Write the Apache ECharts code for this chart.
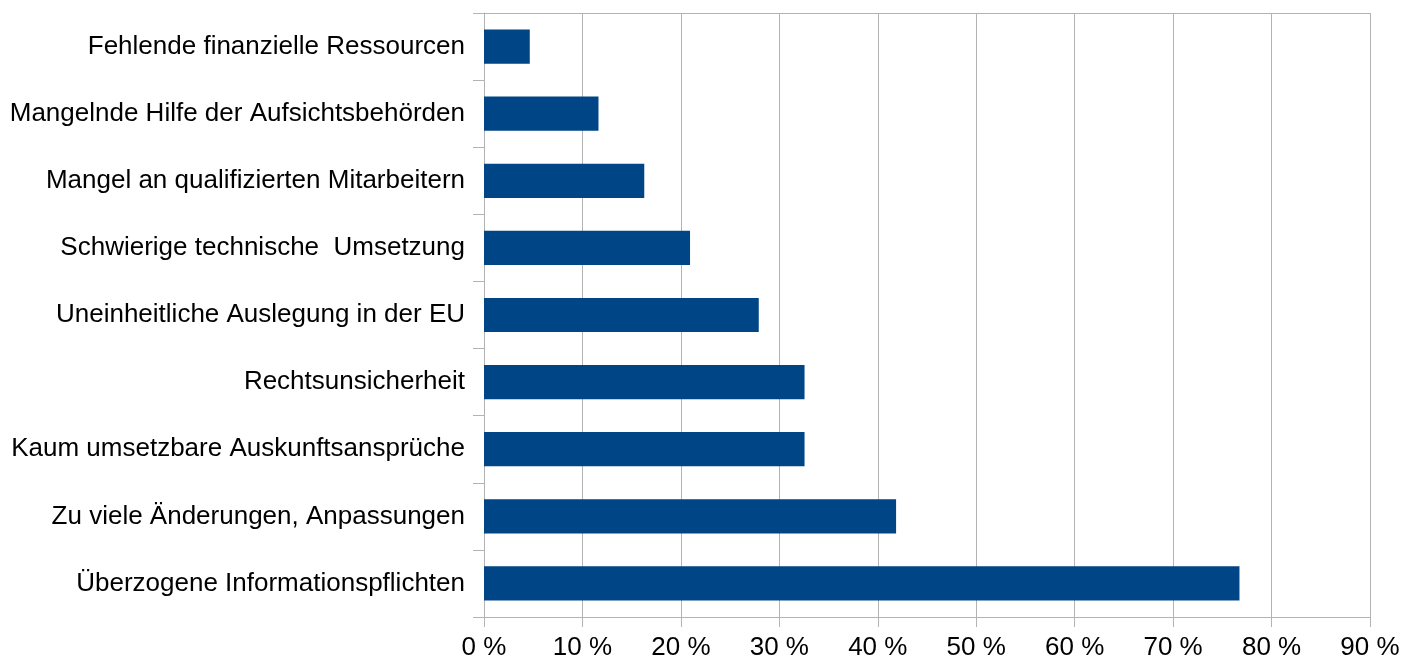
<!DOCTYPE html>
<html><head><meta charset="utf-8">
<script src="https://cdn.jsdelivr.net/npm/echarts@6/dist/echarts.min.js"></script>
<style>html,body{margin:0;padding:0;background:#fff}#c{width:1418px;height:664px}</style>
</head><body><div id="c"></div>
<script>
const categories = [
  "Fehlende finanzielle Ressourcen",
  "Mangelnde Hilfe der Aufsichtsbehörden",
  "Mangel an qualifizierten Mitarbeitern",
  "Schwierige technische  Umsetzung",
  "Uneinheitliche Auslegung in der EU",
  "Rechtsunsicherheit",
  "Kaum umsetzbare Auskunftsansprüche",
  "Zu viele Änderungen, Anpassungen",
  "Überzogene Informationspflichten"
];
const values = [4.65, 11.63, 16.28, 20.93, 27.91, 32.56, 32.56, 41.86, 76.74];
const xTicks = [0, 10, 20, 30, 40, 50, 60, 70, 80, 90];

const chart = echarts.init(document.getElementById('c'));
const grey = '#b3b3b3';
const font = '"Liberation Sans", Arial, sans-serif';
chart.setOption({
  animation: false,
  grid: { left: 484, right: 48, top: 13, bottom: 47, containLabel: false },
  xAxis: {
    type: 'value', min: xTicks[0], max: xTicks[xTicks.length - 1], interval: 10,
    axisLine: { show: true, lineStyle: { color: grey, width: 1 } },
    axisTick: { show: true, length: 10, lineStyle: { color: grey } },
    splitLine: { show: true, lineStyle: { color: grey, width: 1 } },
    axisLabel: { formatter: '{value} %', color: '#000', fontFamily: font, fontSize: 26, margin: 18 }
  },
  yAxis: {
    type: 'category', data: categories, inverse: true,
    axisLine: { show: true, lineStyle: { color: grey, width: 1 } },
    axisTick: { show: true, length: 11, lineStyle: { color: grey } },
    splitLine: { show: true, interval: (i) => i === 0, lineStyle: { color: grey, width: 1 } },
    axisLabel: { color: '#000', fontFamily: font, fontSize: 26, margin: 19 }
  },
  series: [{
    type: 'bar', data: values, barCategoryGap: '49%',
    itemStyle: { color: '#004586' }
  }]
});
</script></body></html>
